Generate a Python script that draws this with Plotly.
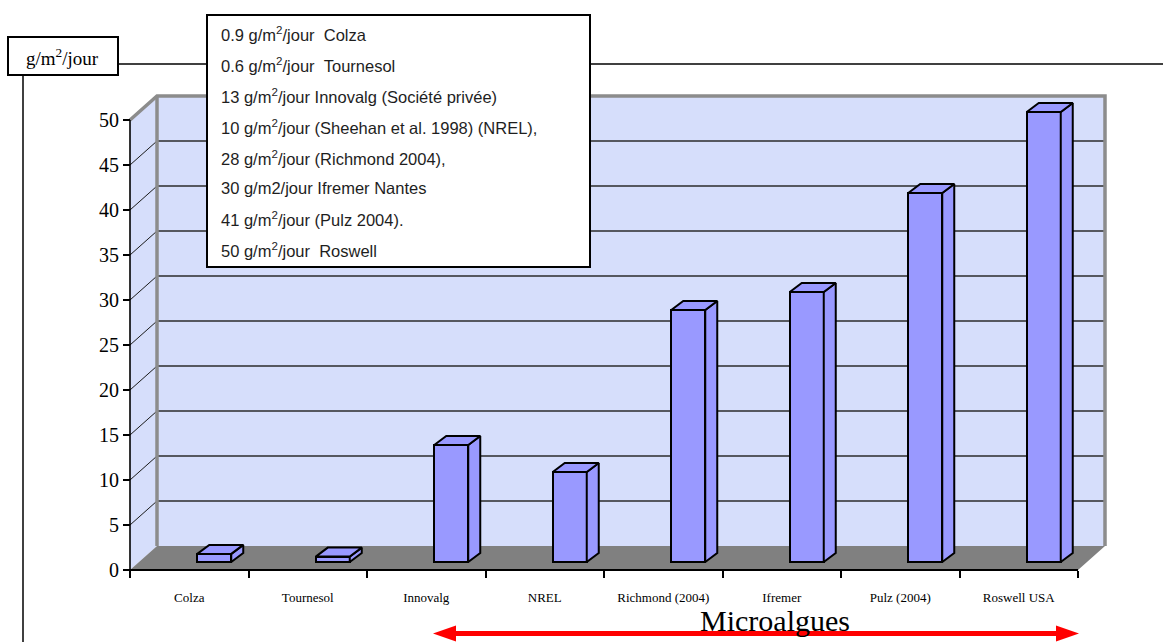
import plotly.graph_objects as go

# ---- data -------------------------------------------------------------
categories = ["Colza", "Tournesol", "Innovalg", "NREL", "Richmond (2004)",
              "Ifremer", "Pulz (2004)", "Roswell USA"]
productivity = [0.9, 0.6, 13, 10, 28, 30, 41, 50]          # g/m2/jour
note_units = ["g/m<sup>2</sup>/jour", "g/m<sup>2</sup>/jour", "g/m<sup>2</sup>/jour",
              "g/m<sup>2</sup>/jour", "g/m<sup>2</sup>/jour", "g/m2/jour",
              "g/m<sup>2</sup>/jour", "g/m<sup>2</sup>/jour"]
note_sources = ["\u00a0Colza", "\u00a0Tournesol", "Innovalg (Société privée)",
                "(Sheehan et al. 1998) (NREL),", "(Richmond 2004),", "Ifremer Nantes",
                "(Pulz 2004).", "\u00a0Roswell"]
y_ticks = list(range(0, 55, 5))
y_top = 50

# ---- page geometry ----------------------------------------------------
W, H = 1163, 642
ML, MB = 100, 60
PW, PH = W - ML, H - MB
CAT_PX, UNIT_PX = 118.5, 9.0        # pixels per category / per unit
X0_PX, Y0_PX = 130, 570             # front-left corner of the floor

def px(x):
    return (x - ML) / PW

def py(y):
    return (PH - y) / PH

n = len(categories)
WALL_DX, WALL_DY = 27 / CAT_PX, 24 / UNIT_PX      # depth of the 3D box
BAR_LIFT = 8 / UNIT_PX                            # columns stand inside the floor
BAR_SHIFT = 25 / CAT_PX
BAR_W = 34 / CAT_PX
BAR_DX, BAR_DY = 12 / CAT_PX, 9 / UNIT_PX         # depth of each column

WALL = "#D6DEFB"
FLOOR = "#808080"
EDGE = "#8C8C8C"
BAR = "#9999FF"
SERIF = "Liberation Serif"

fig = go.Figure()

# front faces of the columns
bar_x = [i + 0.5 + BAR_SHIFT for i in range(n)]
fig.add_trace(go.Bar(
    x=bar_x, y=productivity, base=BAR_LIFT, width=BAR_W,
    marker=dict(color=BAR, line=dict(color="black", width=2)),
    hoverinfo="skip", showlegend=False,
))

# top and side faces of the columns
for xc, v in zip(bar_x, productivity):
    xl, xr = xc - BAR_W / 2, xc + BAR_W / 2
    b, t = BAR_LIFT, BAR_LIFT + v
    top = ([xl, xr, xr + BAR_DX, xl + BAR_DX, xl], [t, t, t + BAR_DY, t + BAR_DY, t])
    side = ([xr, xr + BAR_DX, xr + BAR_DX, xr, xr], [b, b + BAR_DY, t + BAR_DY, t, b])
    for xs, ys in (side, top):
        fig.add_trace(go.Scatter(
            x=xs, y=ys, mode="lines", fill="toself", fillcolor=BAR,
            line=dict(color="black", width=2), hoverinfo="skip", showlegend=False,
        ))

shapes = []
# walls and floor
shapes.append(dict(type="path", xref="x", yref="y", layer="below",
                   path=f"M 0,0 L {WALL_DX},{WALL_DY} L {WALL_DX},{y_top + WALL_DY} L 0,{y_top} Z",
                   fillcolor=WALL, line=dict(width=0)))
shapes.append(dict(type="rect", xref="x", yref="y", layer="below",
                   x0=WALL_DX, x1=n + WALL_DX, y0=WALL_DY, y1=y_top + WALL_DY,
                   fillcolor=WALL, line=dict(width=0)))
shapes.append(dict(type="path", xref="x", yref="y", layer="below",
                   path=f"M 0,0 L {n},0 L {n + WALL_DX},{WALL_DY} L {WALL_DX},{WALL_DY} Z",
                   fillcolor=FLOOR, line=dict(width=0)))
# gridlines on the back and side walls
for v in y_ticks[1:-1]:
    shapes.append(dict(type="line", xref="x", yref="y", layer="below",
                       x0=WALL_DX, x1=n + WALL_DX, y0=v + WALL_DY, y1=v + WALL_DY,
                       line=dict(color="#2b2b2b", width=1.6)))
    shapes.append(dict(type="line", xref="x", yref="y", layer="below",
                       x0=0, x1=WALL_DX, y0=v, y1=v + WALL_DY,
                       line=dict(color="#1a1a1a", width=1)))
# grey outline of the box
shapes.append(dict(type="path", xref="x", yref="y", layer="below",
                   path=(f"M 0,{y_top} L {WALL_DX},{y_top + WALL_DY} "
                         f"L {n + WALL_DX},{y_top + WALL_DY} L {n + WALL_DX},{WALL_DY}"),
                   line=dict(color=EDGE, width=3.5)))
shapes.append(dict(type="line", xref="x", yref="y", layer="below",
                   x0=WALL_DX, x1=WALL_DX, y0=WALL_DY, y1=y_top + WALL_DY,
                   line=dict(color=EDGE, width=3.5)))
# value axis and category axis lines
shapes.append(dict(type="line", xref="x", yref="y", layer="below",
                   x0=0, x1=0, y0=0, y1=y_top, line=dict(color="black", width=1.6)))
shapes.append(dict(type="line", xref="x", yref="y", layer="below",
                   x0=0, x1=n, y0=0, y1=0, line=dict(color="black", width=2)))

# page frame lines
shapes.append(dict(type="line", xref="paper", yref="paper", layer="above",
                   x0=px(118), x1=px(W), y0=py(64), y1=py(64),
                   line=dict(color="black", width=1.5)))
shapes.append(dict(type="line", xref="paper", yref="paper", layer="above",
                   x0=px(23), x1=px(23), y0=py(75), y1=py(H),
                   line=dict(color="black", width=1.5)))
# unit box
shapes.append(dict(type="rect", xref="paper", yref="paper", layer="above",
                   x0=px(8), x1=px(118), y0=py(37), y1=py(75),
                   fillcolor="white", line=dict(color="black", width=2)))
# notes box
shapes.append(dict(type="rect", xref="paper", yref="paper", layer="above",
                   x0=px(207), x1=px(590), y0=py(15), y1=py(267),
                   fillcolor="white", line=dict(color="black", width=2)))
# red double arrow
ay = 633.5
arrow = [(433, ay), (456, ay - 8), (456, ay - 2.5), (1056, ay - 2.5), (1056, ay - 8),
         (1079, ay), (1056, ay + 8), (1056, ay + 2.5), (456, ay + 2.5), (456, ay + 8)]
shapes.append(dict(type="path", xref="paper", yref="paper", layer="above",
                   path="M " + " L ".join(f"{px(a)},{py(b)}" for a, b in arrow) + " Z",
                   fillcolor="#FF0000", line=dict(width=0)))

annotations = [
    dict(text="g/m<sup>2</sup>/jour", xref="paper", yref="paper", x=px(62), y=py(57),
         xanchor="center", yanchor="middle", showarrow=False,
         font=dict(family=SERIF, size=19, color="black")),
    dict(text="Microalgues", xref="paper", yref="paper", x=px(775), y=py(620),
         xanchor="center", yanchor="middle", showarrow=False,
         font=dict(family=SERIF, size=30, color="black")),
]
for k, (v, u, s) in enumerate(zip(productivity, note_units, note_sources)):
    annotations.append(dict(
        text=f"{v:g} {u} {s}", xref="paper", yref="paper", x=px(219), y=py(34 + k * 30.9),
        xanchor="left", yanchor="middle", showarrow=False,
        font=dict(family="Liberation Sans", size=16.5, color="#1e1e1e"),
    ))

fig.update_layout(
    width=W, height=H,
    margin=dict(l=ML, r=0, t=0, b=MB, pad=0),
    paper_bgcolor="white", plot_bgcolor="white",
    showlegend=False, bargap=0,
    shapes=shapes, annotations=annotations,
    xaxis=dict(
        range=[(ML - X0_PX) / CAT_PX, (W - X0_PX) / CAT_PX],
        anchor="free", position=(PH - Y0_PX) / PH,
        tickvals=[i + 0.5 for i in range(n)], ticktext=categories,
        ticks="outside", ticklen=15, tickcolor="rgba(0,0,0,0)",
        minor=dict(tickvals=list(range(n + 1)), ticks="outside", ticklen=7,
                   tickcolor="black", tickwidth=1.5),
        tickfont=dict(family=SERIF, size=13, color="black"),
        showgrid=False, zeroline=False, showline=False, fixedrange=True,
    ),
    yaxis=dict(
        range=[(Y0_PX - PH) / UNIT_PX, Y0_PX / UNIT_PX],
        anchor="free", position=(X0_PX - ML) / PW,
        tickvals=y_ticks, ticks="outside", ticklen=7, tickcolor="black", tickwidth=1.5,
        tickfont=dict(family=SERIF, size=20, color="black"),
        showgrid=False, zeroline=False, showline=False, fixedrange=True,
    ),
)

fig.write_html("out.html")
